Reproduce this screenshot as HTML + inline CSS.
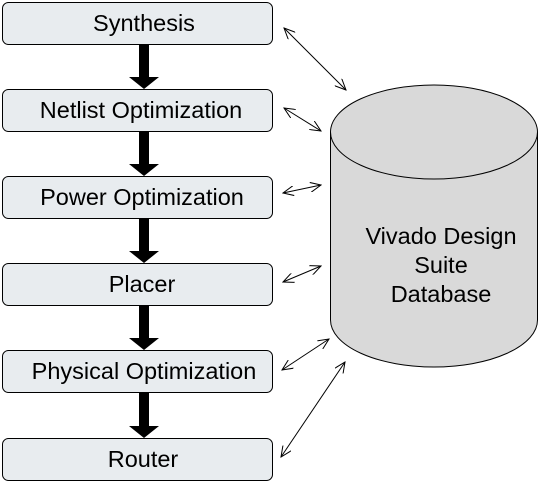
<!DOCTYPE html>
<html><head><style>
body{margin:0;background:#fff;}
svg text{font-family:"Liberation Sans",Arial,sans-serif;font-size:23.5px;fill:#000;}
</style></head><body>
<svg width="541" height="486" viewBox="0 0 541 486" xmlns="http://www.w3.org/2000/svg">
<defs>
<marker id="a" markerWidth="12" markerHeight="10" refX="11" refY="5" orient="auto-start-reverse" markerUnits="userSpaceOnUse">
<path d="M0,0 L11,5 L0,10" fill="none" stroke="#000" stroke-width="1"/>
</marker>
</defs>
<g fill="#e8ecef" stroke="#000" stroke-width="1">
<rect x="2.5" y="2.5" width="270" height="42" rx="6"/>
<rect x="2.5" y="89.5" width="270" height="42" rx="6"/>
<rect x="2.5" y="176.5" width="270" height="42" rx="6"/>
<rect x="2.5" y="263.5" width="270" height="42" rx="6"/>
<rect x="2.5" y="350.5" width="270" height="42" rx="6"/>
<rect x="2.5" y="438.5" width="270" height="42" rx="6"/>
</g>
<g text-anchor="middle">
<text x="144" y="31">Synthesis</text>
<text x="141" y="118">Netlist Optimization</text>
<text x="142" y="205">Power Optimization</text>
<text x="142" y="292">Placer</text>
<text x="144" y="379">Physical Optimization</text>
<text x="143" y="467">Router</text>
</g>
<g fill="#000">
<path d="M139,45 h10 v32 h10 l-15,12 l-15,-12 h10z"/>
<path d="M139,132 h10 v32 h10 l-15,12 l-15,-12 h10z"/>
<path d="M139,219 h10 v32 h10 l-15,12 l-15,-12 h10z"/>
<path d="M139,306 h10 v32 h10 l-15,12 l-15,-12 h10z"/>
<path d="M139,393 h10 v33 h10 l-15,12 l-15,-12 h10z"/>
</g>
<path d="M330.5,132 V320 A103.5,47 0 0 0 537.5,320 V132" fill="#d9d9d9" stroke="#000" stroke-width="1"/>
<ellipse cx="434" cy="132" rx="103.5" ry="47" fill="#d9d9d9" stroke="#000" stroke-width="1"/>
<g text-anchor="middle">
<text x="441" y="244">Vivado Design</text>
<text x="441" y="273">Suite</text>
<text x="441" y="302">Database</text>
</g>
<g stroke="#000" stroke-width="1" marker-start="url(#a)" marker-end="url(#a)">
<line x1="284" y1="28" x2="346" y2="90"/>
<line x1="284" y1="108" x2="321" y2="131"/>
<line x1="283" y1="193" x2="321" y2="185"/>
<line x1="283" y1="282" x2="321" y2="266"/>
<line x1="282" y1="370" x2="329" y2="339"/>
<line x1="281" y1="457" x2="345" y2="362"/>
</g>
</svg>
</body></html>
